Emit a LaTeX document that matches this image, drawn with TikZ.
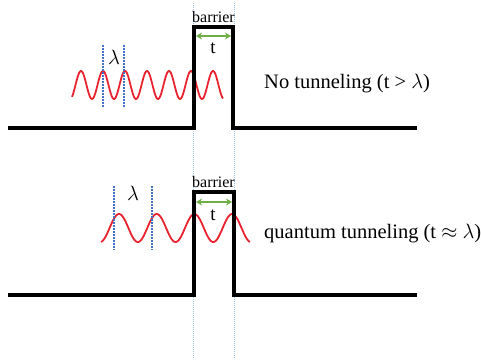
\documentclass[tikz,border=0pt]{standalone}
\usepackage{fontspec}
\setmainfont{Liberation Serif}
\usetikzlibrary{arrows.meta}
\definecolor{wavered}{HTML}{E8222E}
\definecolor{arrgreen}{HTML}{70AD47}
\definecolor{lamblue}{HTML}{4472C4}
\definecolor{lightblue}{HTML}{9DC3E6}
\tikzset{
  ground/.style={line width=3.5pt, black, line join=miter},
  wave/.style={line width=1.8pt, wavered},
  lamline/.style={line width=1.5pt, lamblue, dash pattern=on 1.5pt off 1.5pt},
  guide/.style={line width=0.8pt, lightblue, dash pattern=on 1pt off 1pt},
  tarrow/.style={line width=2pt, arrgreen, {Stealth[length=6pt,width=7pt]}-{Stealth[length=6pt,width=7pt]}},
  lbl/.style={inner sep=0pt},
}
\begin{document}
\begin{tikzpicture}[x=1pt,y=-1pt]
\useasboundingbox (0,0) rectangle (481,359);
% guide lines
\coordinate (g1t) at (193,3); \coordinate (g1b) at (193,358);
\coordinate (g2t) at (234,3); \coordinate (g2b) at (234,358);
\draw[guide] (g1t) -- (g1b);
\draw[guide] (g2t) -- (g2b);

% ---------- top panel ----------
\draw[wave] plot[domain=72:223, samples=300, smooth] (\x, {85 - 14*cos((\x-81)/22*360)});
\coordinate (a1) at (8,128); \coordinate (a2) at (194,128); \coordinate (a3) at (194,27);
\coordinate (a4) at (233,27); \coordinate (a5) at (233,128); \coordinate (a6) at (417,128);
\draw[ground] (a1) -- (a2) -- (a3) -- (a4) -- (a5) -- (a6);
\coordinate (l1t) at (103,45); \coordinate (l1b) at (103,107);
\coordinate (l2t) at (124,45); \coordinate (l2b) at (124,107);
\draw[lamline] (l1t) -- (l1b);
\draw[lamline] (l2t) -- (l2b);
\node[lbl, font=\fontsize{20}{20}\selectfont] (lamA) at (114,57) {$\lambda$};
\node[lbl, font=\fontsize{16}{16}\selectfont] (barA) at (213.5,17) {barrier};
\coordinate (ta1) at (196,36); \coordinate (ta2) at (231,36);
\draw[tarrow] (ta1) -- (ta2);
\node[lbl, font=\fontsize{19}{19}\selectfont] (tA) at (213,48) {t};
\node[lbl, anchor=west, font=\fontsize{20.5}{20.5}\selectfont] (txtA) at (264,84) {No tunneling (t > $\lambda$)};

% ---------- bottom panel ----------
\draw[wave] plot[domain=101:250, samples=300, smooth] (\x, {228 - 14*cos((\x-119)/37.7*360)});
\coordinate (b1) at (8,295); \coordinate (b2) at (194,295); \coordinate (b3) at (194,192);
\coordinate (b4) at (234,192); \coordinate (b5) at (234,295); \coordinate (b6) at (417,295);
\draw[ground] (b1) -- (b2) -- (b3) -- (b4) -- (b5) -- (b6);
\coordinate (m1t) at (114,186); \coordinate (m1b) at (114,250);
\coordinate (m2t) at (152,186); \coordinate (m2b) at (152,250);
\draw[lamline] (m1t) -- (m1b);
\draw[lamline] (m2t) -- (m2b);
\node[lbl, font=\fontsize{20}{20}\selectfont] (lamB) at (133,193) {$\lambda$};
\node[lbl, font=\fontsize{16}{16}\selectfont] (barB) at (213.5,182) {barrier};
\coordinate (tb1) at (196,202); \coordinate (tb2) at (232,202);
\draw[tarrow] (tb1) -- (tb2);
\node[lbl, font=\fontsize{19}{19}\selectfont] (tB) at (213,215) {t};
\node[lbl, anchor=west, font=\fontsize{20.5}{20.5}\selectfont] (txtB) at (264,234) {quantum tunneling (t $\approx$ $\lambda$)};
\end{tikzpicture}
\end{document}
